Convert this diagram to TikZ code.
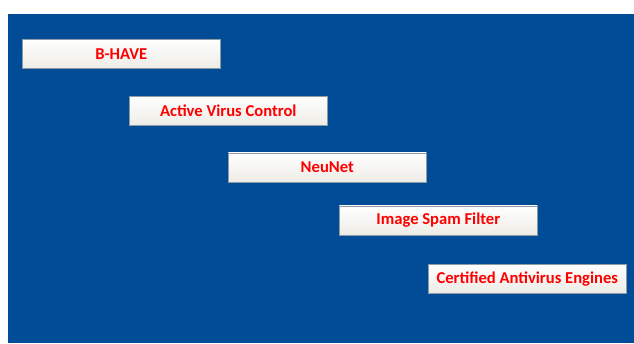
\documentclass[tikz,border=0pt]{standalone}
\usepackage{fontspec}
\setmainfont{Carlito}
\definecolor{bgblue}{HTML}{004C97}
\definecolor{boxfill}{HTML}{EDECE6}
\definecolor{boxedge}{HTML}{8E9AA6}
\definecolor{txtred}{HTML}{FF0000}
\begin{document}
\begin{tikzpicture}[x=1pt,y=-1pt,
  itembox/.style={draw=boxedge, line width=0.6pt, top color=white, bottom color=boxfill, minimum width=198pt, minimum height=29pt, anchor=north west, inner sep=0pt, font=\fontsize{16.6}{18}\selectfont\bfseries, text=txtred}]
\useasboundingbox (0,0) rectangle (634,343);
\fill[bgblue] (8,14) rectangle (634,343);
\node[itembox] (bhave) at (22,39) {B-HAVE};
\node[itembox] (avc) at (129,96) {Active Virus Control};
\node[itembox] (neunet) at (228,152.5) {NeuNet};
\node[itembox] (isf) at (339,205.5) {Image Spam Filter};
\node[itembox] (cae) at (428,264) {Certified Antivirus Engines};
\end{tikzpicture}
\end{document}
